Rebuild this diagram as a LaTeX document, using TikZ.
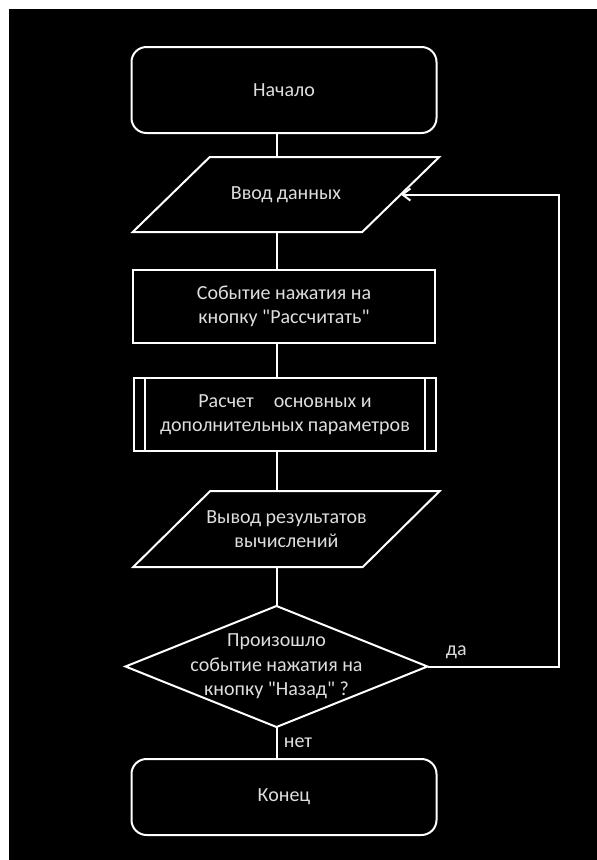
\documentclass[tikz,border=0pt]{standalone}
\usepackage{fontspec}
\setmainfont{Carlito}
\definecolor{TextGrey}{RGB}{222,222,222}
\usetikzlibrary{shapes.geometric,arrows.meta,positioning}

\begin{document}
\begin{tikzpicture}[
    x=1pt, y=-1pt,
    every node/.style={font=\fontsize{20}{24.5}\selectfont, text=TextGrey},
    outline/.style={draw=white, line width=2pt, outer sep=0pt},
    term/.style={outline, rectangle, rounded corners=15pt, minimum width=305pt, align=center},
    io/.style={rectangle, outer sep=0pt, minimum width=229.5pt, minimum height=75pt, align=center},
    proc/.style={outline, rectangle, minimum width=302pt, minimum height=73pt, align=center},
    decision/.style={outline, diamond, aspect=2.5, inner xsep=-40pt, inner ysep=-10pt, minimum width=302pt, minimum height=121pt, align=center},
    line/.style={draw=white, line width=2pt},
    arrow/.style={line, -{Straight Barb[length=8pt,width=12pt]}}
  ]
    % screenshot frame
    \useasboundingbox (0,0) rectangle (597,860);
    \fill[black] (9,9) rectangle (597,860);

    \node[term, minimum height=86pt] (start) at (284,90) {Начало};
    \node[io, below=24pt of start, xshift=2pt] (in) {Ввод данных};
    \node[proc, below=38pt of in, xshift=-2pt] (press) {Событие нажатия на\\кнопку \textquotedbl Рассчитать\textquotedbl};
    \node[proc, below=35pt of press, xshift=1pt] (calc) {Расчет\hspace{1em}основных и\\дополнительных параметров};
    \node[io, below=40pt of calc, xshift=1.5pt, minimum height=76pt] (out) {Вывод результатов\\вычислений};
    \node[decision, below=39pt of out, xshift=-10pt] (dec) {Произошло\\событие нажатия на\\кнопку \textquotedbl Назад\textquotedbl\ ?};
    \node[term, below=32pt of dec, xshift=7.5pt, minimum height=76pt] (end) {Конец};

    % slanted input/output boxes
    \foreach \n in {in,out}
      \draw[outline] ([xshift=-38.5pt]\n.south west) -- ([xshift=38.5pt]\n.north west)
        -- ([xshift=38.5pt]\n.north east) -- ([xshift=-38.5pt]\n.south east) -- cycle;

    % side bars of the subprocess
    \draw[line] ([xshift=11pt]calc.north west) -- ([xshift=11pt]calc.south west);
    \draw[line] ([xshift=-11pt]calc.north east) -- ([xshift=-11pt]calc.south east);

    \draw[line] (start.south -| dec.north) -- (in.north -| dec.north);
    \draw[line] (in.south -| dec.north) -- (press.north -| dec.north);
    \draw[line] (press.south -| dec.north) -- (calc.north -| dec.north);
    \draw[line] (calc.south -| dec.north) -- (out.north -| dec.north);
    \draw[line] (out.south -| dec.north) -- (dec.north);
    \draw[line] (dec.south) -- node[right, xshift=3pt] {нет} (end.north -| dec.south);

    % back to input
    \coordinate[right=131pt of dec.east] (loop);
    \draw[arrow] (dec.east) -- node[above=3pt, pos=0.22] {да} (loop) |- (in.east);
  \end{tikzpicture}
\end{document}
